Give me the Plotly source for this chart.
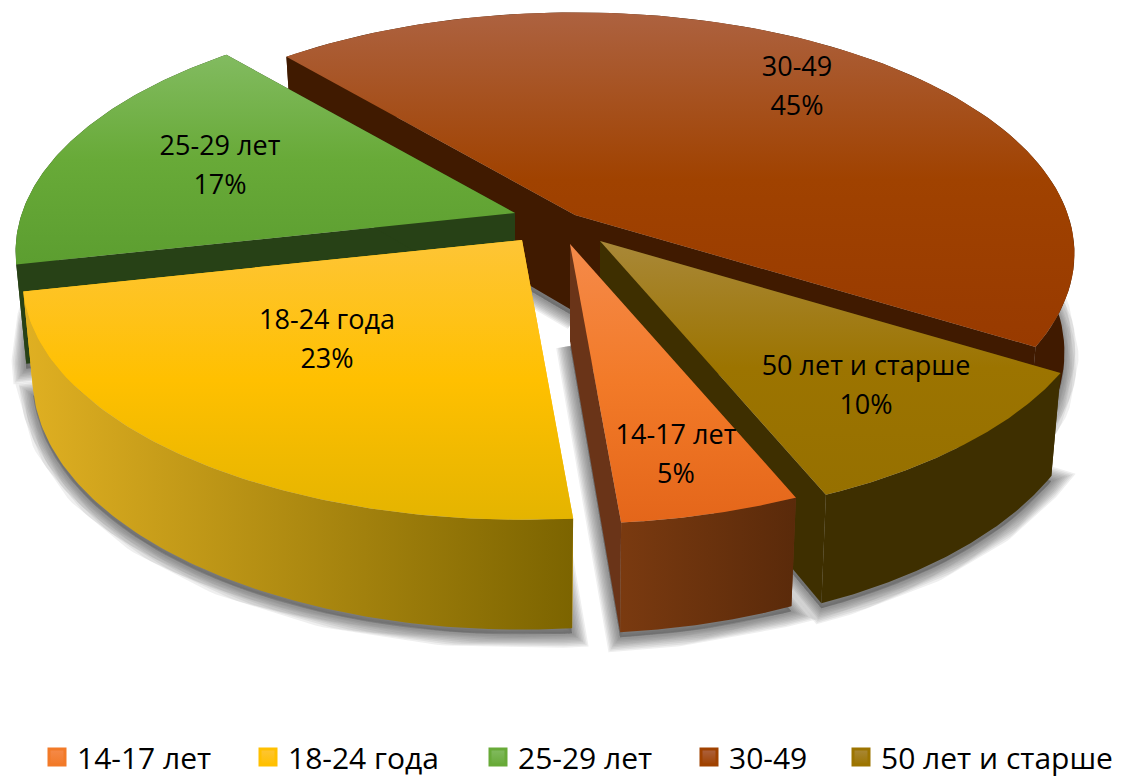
import numpy as np
import plotly.graph_objects as go

# ---- data ----
categories = ["14-17 лет", "18-24 года", "25-29 лет", "30-49", "50 лет и старше"]
values = [5, 23, 17, 45, 10]
# ---- styles ----
top_colors = [
    ["#f58a4a", "#f27a28", "#e4661a"],
    ["#fec536", "#ffc000", "#e4b400"],
    ["#82bb60", "#68aa38", "#5c9e30"],
    ["#ad6240", "#a04200", "#983a00"],
    ["#a98838", "#9c7400", "#967000"],
]
wall_colors = [
    ["#7a3a10", "#5a2a0a"],
    ["#e0b022", "#7c6400"],
    ["#274116", "#274116"],
    ["#401a00", "#401a00"],
    ["#3e2f00", "#3e2f00"],
]
radial_colors = ["#6a3418", "#ffc000", "#274116", "#401a00", "#3e2f00"]
tips = [(570, 244), (522, 240), (515, 213), (575, 215), (600, 241)]
label_xy = [(676, 437), (327, 322), (220, 148), (797, 69), (866, 368)]
LINE_GAP = 39.5
legend_left = [37, 248, 478, 689, 841]
START = 157.0
RX, RY, K, H0, SHRINK = 493.0, 235.0, 0.16, 97.0, 0.98
draw_order = [3, 2, 4, 0, 1]


def project(theta, tip, bottom=False):
    th = np.radians(theta)
    u, v = np.sin(th), -np.cos(th)
    s = 1 / (1 - K * v)
    x, y = RX * u * s, RY * v * s
    if bottom:
        return tip[0] + SHRINK * x, tip[1] + SHRINK * y + H0 * s
    return tip[0] + x, tip[1] + y


def grad(kind, cols):
    # a vertical fill gradient runs bottom-to-top on the reversed pixel axis
    cols = cols[::-1] if kind == "vertical" else cols
    n = len(cols) - 1
    return dict(type=kind, colorscale=[[i / n, c] for i, c in enumerate(cols)])


def poly(fig, x, y, **kw):
    fig.add_trace(go.Scatter(x=np.r_[x, x[0]], y=np.r_[y, y[0]], mode="lines", fill="toself",
                             showlegend=False, hoverinfo="skip", **kw))


fig = go.Figure()
angles = START + np.r_[0, np.cumsum(values)] * 3.6
arcs = {}
for i, tip in enumerate(tips):
    th = np.linspace(angles[i], angles[i + 1], 100)
    arcs[i] = (th, project(th, tip), project(th, tip, True))

# soft shadow of the bottom faces
for i, tip in enumerate(tips):
    th, top, bot = arcs[i]
    bx, by = tip[0], tip[1] + H0
    sx, sy = np.r_[bx, bot[0]], np.r_[by, bot[1]] + 5
    for w in (28, 25, 22, 19, 16, 13, 10, 7, 4):
        poly(fig, sx, sy, line=dict(color="rgba(70,70,70,0.085)", width=w), fillcolor="rgba(70,70,70,0.06)")

# 3-D slices
for i in draw_order:
    th, top, bot = arcs[i]
    tip = tips[i]
    bt = (tip[0], tip[1] + H0)
    for end in (0, -1):
        poly(fig, np.array([tip[0], top[0][end], bot[0][end], bt[0]]),
             np.array([tip[1], top[1][end], bot[1][end], bt[1]]),
             line=dict(width=0), fillcolor=radial_colors[i])
    poly(fig, np.r_[top[0], bot[0][::-1]], np.r_[top[1], bot[1][::-1]], line=dict(width=0),
         fillgradient=grad("horizontal", wall_colors[i]))
    poly(fig, np.r_[tip[0], top[0]], np.r_[tip[1], top[1]], line=dict(width=0),
         fillgradient=grad("vertical", top_colors[i]))

# labels: category line and percentage line
label_font = dict(size=27, color="black", family="Open Sans")
fig.add_trace(go.Scatter(x=[p[0] for p in label_xy], y=[p[1] for p in label_xy], mode="text",
                         text=categories, textposition="middle center", textfont=label_font,
                         showlegend=False, hoverinfo="skip"))
fig.add_trace(go.Scatter(x=[p[0] for p in label_xy], y=[p[1] + LINE_GAP for p in label_xy], mode="text",
                         text=[f"{v}%" for v in values], textposition="middle center", textfont=label_font,
                         showlegend=False, hoverinfo="skip"))

# legend: one native legend per entry so each sits at its own position
legends = {}
for k, (c, cols, left) in enumerate(zip(categories, top_colors, legend_left)):
    key = "legend" if k == 0 else f"legend{k + 1}"
    fig.add_trace(go.Scatter(x=[None], y=[None], mode="markers", name=c, legend=key,
                             marker=dict(symbol="square", size=16, color=cols[0],
                                         gradient=dict(type="vertical", color=cols[1]),
                                         line=dict(color=cols[1], width=3))))
    legends[key] = dict(x=left / 1132, xanchor="left", y=(778 - 757) / 778, yanchor="middle",
                        font=dict(size=30, family="Open Sans", color="black"),
                        bgcolor="rgba(0,0,0,0)", borderwidth=0)

fig.update_layout(
    width=1132, height=778, margin=dict(l=0, r=0, t=0, b=0, autoexpand=False),
    paper_bgcolor="white", plot_bgcolor="white",
    xaxis=dict(range=[0, 1132], visible=False, fixedrange=True),
    yaxis=dict(range=[778, 0], visible=False, fixedrange=True),
    **legends,
)
fig.write_html("out.html", config={"displayModeBar": False},
               post_script="document.body.style.margin='0';")
